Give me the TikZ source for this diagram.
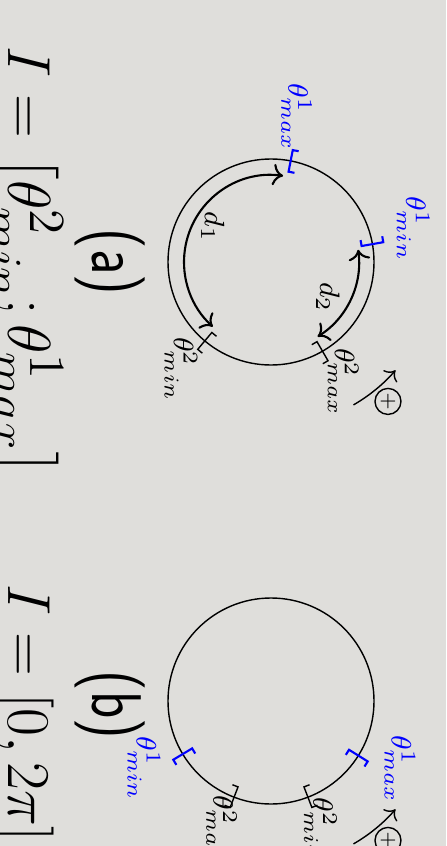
\documentclass[tikz,border=0pt]{standalone}
\usepackage{amsmath,amssymb}
\usepackage{tikz}
\usetikzlibrary{arrows.meta,positioning,calc}
\definecolor{bgGray}{RGB}{223,222,219}
\DeclareMathSizes{17}{17}{15}{12}

% interval end mark on the circle: angle, side of the ticks (1 = ccw, -1 = cw), style
\newcommand{\ivmark}[3]{%
  \draw[#3] (#1:0.92) ++({#1+90*#2}:0.06) -- (#1:0.92) -- (#1:1.14) -- ++({#1+90*#2}:0.06);
}

\begin{document}
\begin{tikzpicture}[rotate=-90, transform shape, >=To,
    lbl/.style={font=\footnotesize, inner sep=1pt},
    capfont/.style={font=\fontsize{20}{24}\selectfont\sffamily, xscale=0.8},
    eqfont/.style={font=\fontsize{17}{20}\selectfont, inner sep=0pt}]
    % background, fixes the page size
    \fill[bgGray] (0,0) rectangle (8.46,4.46);
    \useasboundingbox (0,0) rectangle (8.46,4.46);

    % (a) two separate intervals
    \begin{scope}[shift={(2.62,2.71)}]
      \draw[thin] (0,0) circle (1.03);
      \ivmark{169}{-1}{blue, semithick}
      \ivmark{100}{1}{blue, semithick}
      \ivmark{30}{-1}{black}
      \ivmark{-40}{1}{black}
      \node[lbl, blue] (maxA1) at (170:1.47) {$\theta^1_{max}$};
      \node[lbl, blue] (minA1) at (103:1.46) {$\theta^1_{min}$};
      \node[lbl] (maxA2) at (31:1.40) {$\theta^2_{max}$};
      \node[lbl] (minA2) at (-40:1.40) {$\theta^2_{min}$};
      % distances between the intervals
      \draw[semithick, <->] (172:0.87) arc[start angle=172, end angle=318, radius=0.87];
      \draw[semithick, <->] (32:0.88) arc[start angle=32, end angle=98, radius=0.88];
      \node[lbl] (dA1) at (239:0.68) {$d_1$};
      \node[lbl] (dA2) at (58:0.67) {$d_2$};
      % positive direction
      \draw[->] (30:1.65) arc[start angle=30, end angle=49, radius=1.65];
      \node[circle, draw, inner sep=0pt, minimum size=0.26cm] (plusA) at (40:1.82) {\tiny $+$};
    \end{scope}
    \node[capfont] (capA) at (2.62,1.10) {(a)};
    \node[eqfont, anchor=base west] (intA) at (0.46,0.08) {$I=\left[\theta^2_{min};\theta^1_{max}\right]$};

    % (b) intervals covering the whole circle
    \begin{scope}[shift={(7.01,2.71)}]
      \draw[thin] (0,0) circle (1.03);
      \ivmark{58}{-1}{blue, semithick}
      \ivmark{-59}{1}{blue, semithick}
      \ivmark{-21}{-1}{black}
      \ivmark{21}{1}{black}
      \node[lbl, blue] (maxB1) at (62:1.46) {$\theta^1_{max}$};
      \node[lbl, blue] (minB1) at (-62:1.44) {$\theta^1_{min}$};
      \node[lbl] (maxB2) at (-21:1.38) {$\theta^2_{max}$};
      \node[lbl] (minB2) at (21:1.38) {$\theta^2_{min}$};
      % positive direction
      \draw[->] (30:1.65) arc[start angle=30, end angle=49, radius=1.65];
      \node[circle, draw, inner sep=0pt, minimum size=0.26cm] (plusB) at (40:1.82) {\tiny $+$};
    \end{scope}
    \node[capfont] (capB) at (7.05,1.10) {(b)};
    \node[eqfont, anchor=base west] (intB) at (5.84,0.08) {$I=[0,2\pi]$};
\end{tikzpicture}
\end{document}
